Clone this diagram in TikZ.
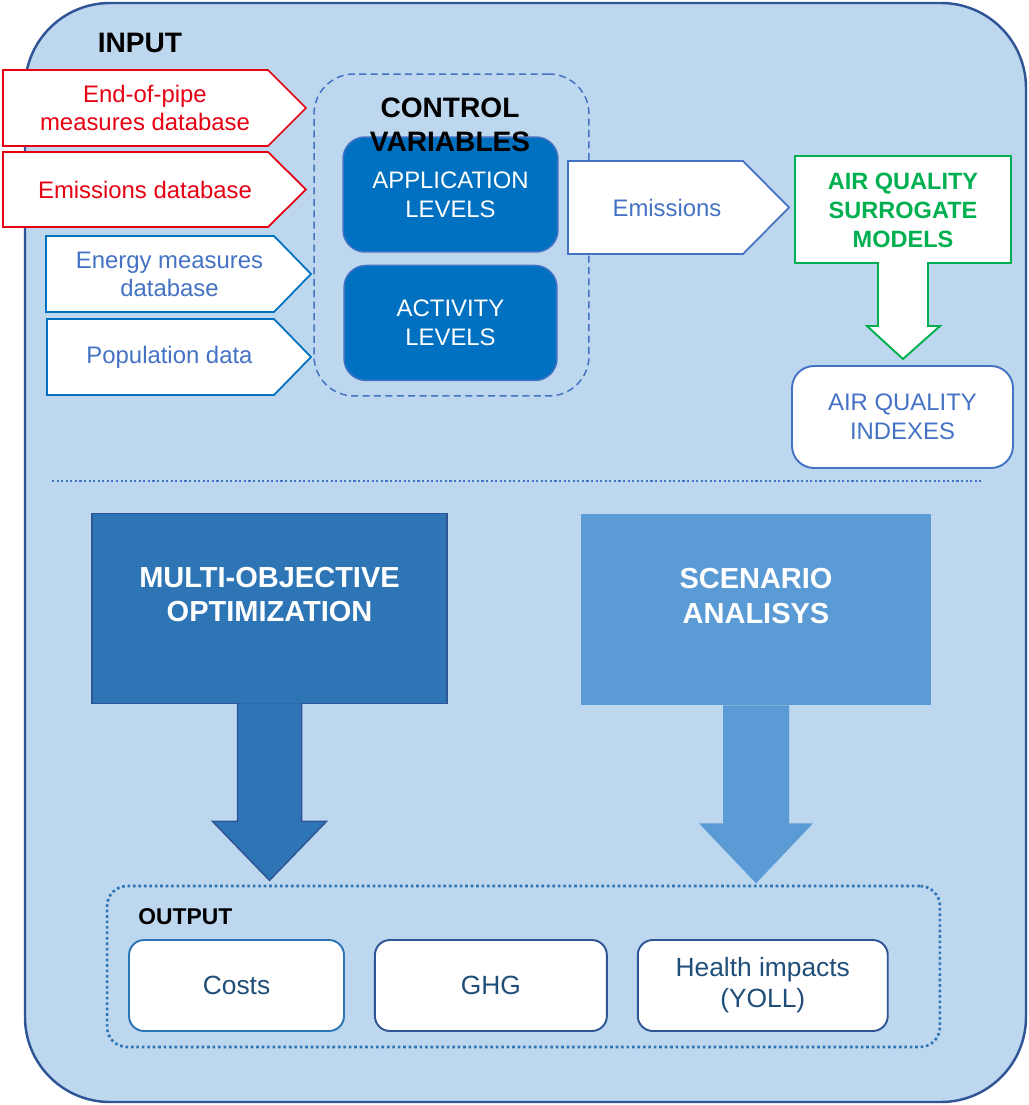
\documentclass[tikz,border=0pt]{standalone}
\usepackage{fontspec}
\setmainfont{Liberation Sans}
\usepackage{xcolor}
\usetikzlibrary{positioning}
\definecolor{bgblue}{HTML}{BDD7EE}
\definecolor{darkblue}{HTML}{2F5597}
\definecolor{midblue}{HTML}{2E75B6}
\definecolor{lightblue}{HTML}{5B9BD5}
\definecolor{accblue}{HTML}{4472C4}
\definecolor{ctrlblue}{HTML}{0070C0}
\definecolor{inred}{HTML}{E60012}
\definecolor{aqgreen}{HTML}{00B050}
\definecolor{outtext}{HTML}{1F4E79}
\tikzset{
    tbox/.style = {align=center, inner sep=0pt, text centered},
    outer_box/.style = {draw=darkblue, fill=bgblue, line width=1.4pt, rounded corners=1.7cm},
    red_in/.style = {draw=inred, fill=white, line width=1pt},
    blue_in/.style = {draw=ctrlblue, fill=white, line width=1pt},
    acc_in/.style = {draw=accblue, fill=white, line width=1pt},
    red_txt/.style = {tbox, text=inred, font=\fontsize{13.6}{15.9}\selectfont},
    acc_txt/.style = {tbox, text=accblue, font=\fontsize{13.6}{15.9}\selectfont},
    head_txt/.style = {tbox, font=\bfseries\fontsize{16}{19.3}\selectfont},
    ctrl_box/.style = {tbox, draw=accblue, line width=0.85pt, dash pattern=on 4pt off 2.5pt, rounded corners=0.8cm},
    lvl_box/.style = {tbox, fill=ctrlblue, draw=accblue, line width=0.85pt, rounded corners=0.44cm, minimum height=2.3cm, text=white, font=\fontsize{13.6}{16.4}\selectfont},
    green_arr/.style = {draw=aqgreen, fill=white, line width=1.1pt},
    green_txt/.style = {tbox, text=aqgreen, font=\bfseries\fontsize{13.4}{16.4}\selectfont},
    aqi_box/.style = {tbox, draw=accblue, fill=white, line width=1.1pt, rounded corners=0.44cm, minimum width=4.42cm, minimum height=2.04cm, text=accblue, font=\fontsize{13.6}{16.4}\selectfont},
    sep_line/.style = {draw=accblue, line width=1.2pt, dash pattern=on 1.2pt off 1.4pt},
    mo_box/.style = {tbox, fill=midblue, draw=darkblue, line width=0.85pt, minimum width=7.1cm, minimum height=3.8cm},
    sc_box/.style = {tbox, fill=lightblue, minimum width=7.02cm, minimum height=3.82cm},
    big_txt/.style = {tbox, text=white, font=\bfseries\fontsize{16.5}{19.8}\selectfont},
    mo_arr/.style = {fill=midblue, draw=darkblue, line width=0.85pt, line join=miter},
    sc_arr/.style = {fill=lightblue},
    out_frame/.style = {tbox, draw=midblue, line width=1.5pt, dash pattern=on 1.5pt off 1.6pt, rounded corners=0.4cm, minimum width=16.66cm, minimum height=3.22cm},
    out_head/.style = {tbox, font=\bfseries\fontsize{13}{15}\selectfont},
    out_box/.style = {tbox, draw=darkblue, fill=white, line width=1.1pt, rounded corners=0.3cm, minimum height=1.82cm, text=outtext, font=\fontsize{15}{17.6}\selectfont}
}
\begin{document}
\begin{tikzpicture}[x=0.02cm, y=-0.02cm]
\useasboundingbox (0,0) rectangle (1028,1105);
\draw[outer_box] (25,3) rectangle (1026,1102);
\node[head_txt] (input) at (140,43) {INPUT};

\draw[red_in] (3,70) -- (268,70) -- (306,108) -- (268,146) -- (3,146) -- cycle;
\node[red_txt] (eop) at (145,108) {End-of-pipe\\measures database};
\draw[red_in] (3,152) -- (268,152) -- (306,189.5) -- (268,227) -- (3,227) -- cycle;
\node[red_txt] (emdb) at (145,189.5) {Emissions database};
\draw[blue_in] (46,236) -- (274,236) -- (311,274) -- (274,312) -- (46,312) -- cycle;
\node[acc_txt] (energy) at (169.5,274) {Energy measures\\database};
\draw[blue_in] (47,319) -- (274,319) -- (311,357) -- (274,395) -- (47,395) -- cycle;
\node[acc_txt] (pop) at (169.5,357) {Population data};

\node[ctrl_box, minimum width=5.5cm, minimum height=6.44cm] (ctrl) at (451.5,235) {};
\node[lvl_box, minimum width=4.3cm] (app) at (450.5,194.5) {APPLICATION\\LEVELS};
\node[lvl_box, minimum width=4.26cm, below=0.24cm of app] (act) {ACTIVITY\\LEVELS};
\node[head_txt] (ctrl_t) at (450,125) {CONTROL\\VARIABLES};

\draw[acc_in] (568,161) -- (743,161) -- (789,207.5) -- (743,254) -- (568,254) -- cycle;
\node[acc_txt] (emis) at (667,207.5) {Emissions};

\draw[green_arr] (795,156) -- (1011,156) -- (1011,263) -- (928,263) -- (928,326) -- (940,326)
    -- (903,359) -- (867,326) -- (878,326) -- (878,263) -- (795,263) -- cycle;
\node[green_txt] (aqsm) at (903,210.5) {AIR QUALITY\\SURROGATE\\MODELS};
\node[aqi_box] (aqi) at (902.5,417) {AIR QUALITY\\INDEXES};

\coordinate (sep_l) at (52,481);
\coordinate (sep_r) at (983,481);
\draw[sep_line] (sep_l) -- (sep_r);

\node[mo_box] (mo) at (269.5,608.5) {};
\node[big_txt] (mo_t) at (269.5,594.5) {MULTI-OBJECTIVE\\OPTIMIZATION};
\draw[mo_arr] ([xshift=-0.64cm, yshift=0.5pt]mo.south) -- ++(0,118) -- ++(-25,0) -- ++(57,59)
    -- ++(57,-59) -- ++(-25,0) -- ++(0,-118);
\node[sc_box] (sc) at (756,609.5) {};
\node[big_txt] (sc_t) at (756,596) {SCENARIO\\ANALISYS};
\fill[sc_arr] ([xshift=-0.66cm]sc.south) -- ++(0,118) -- ++(-24,0) -- ++(57,60)
    -- ++(57,-60) -- ++(-24,0) -- ++(0,-118) -- cycle;

\node[out_frame] (outbox) at (523.5,966.5) {};
\node[out_head, anchor=west] (output) at (138,917) {OUTPUT};
\node[out_box, draw=midblue, minimum width=4.3cm] (costs) at (236.5,985.5) {Costs};
\node[out_box, minimum width=4.64cm, right=0.58cm of costs] (ghg) {GHG};
\node[out_box, minimum width=5cm, right=0.58cm of ghg] (health) {Health impacts\\(YOLL)};
\end{tikzpicture}
\end{document}
